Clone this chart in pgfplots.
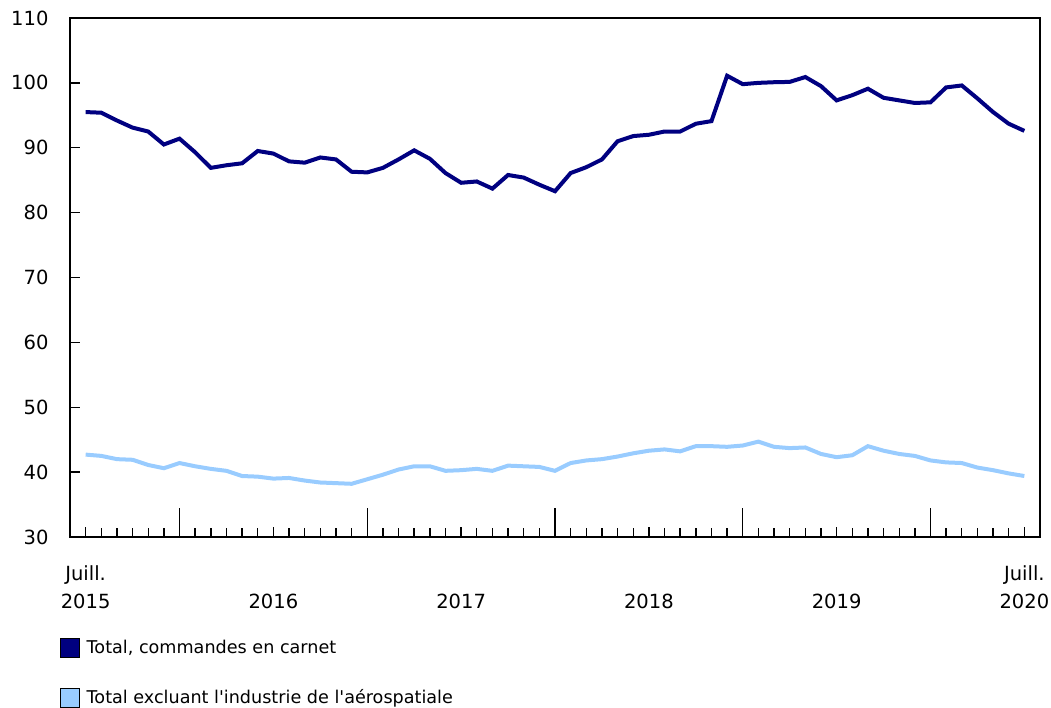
\documentclass[border=0pt]{standalone}
\usepackage{pgfplots}
\pgfplotsset{compat=1.18}
\usepackage{fontspec}
\setmainfont{DejaVu Sans}
\definecolor{navy}{RGB}{0,0,128}
\definecolor{lightb}{RGB}{153,204,255}
\begin{document}
\fontsize{19pt}{23pt}\selectfont
\begin{tikzpicture}
\useasboundingbox (0,0) rectangle (1051pt,708pt);
\begin{axis}[
  at={(70pt,171pt)}, anchor=south west,
  scale only axis, width=970pt, height=519pt,
  xmin=-1, xmax=61, ymin=30, ymax=110,
  ytick={30,40,...,110},
  tick align=inside,
  xtick pos=bottom, ytick pos=left,
  xtick={0,12,24,36,48,60},
  xticklabels={{Juill.\\2015},{\phantom{Juill.}\\2016},{\phantom{Juill.}\\2017},{\phantom{Juill.}\\2018},{\phantom{Juill.}\\2019},{Juill.\\2020}},
  xticklabel style={align=center, anchor=north, yshift=-22pt},
  minor xtick={0,...,60},
  major tick length=10pt, minor tick length=9pt,
  tick style={black, line width=1.4pt},
  minor tick style={black, line width=1.4pt},
  axis line style={black, line width=1.4pt},
  extra x ticks={6,18,30,42,54},
  extra x tick labels={},
  extra x tick style={major tick length=29pt},
  yticklabel style={anchor=east, xshift=-15pt},
  /pgf/number format/assume math mode=true,
  ticklabel style={font=\fontsize{19.5pt}{28pt}\selectfont},
  legend style={at={(-0.0103,-0.193)}, anchor=north west, draw=none, fill=none,
    inner sep=0pt, row sep=27pt, font=\fontsize{17.6pt}{21pt}\selectfont,
    nodes={inner sep=3pt}},
  legend cell align=left,
]
\addplot[navy, line width=4pt,
  legend image code/.code={\draw[fill=navy, draw=black, line width=1pt] (0pt,-9.5pt) rectangle (19pt,9.5pt); \path (21pt,0pt);}] coordinates {
(0,95.5)(1,95.4)(2,94.2)(3,93.1)(4,92.5)(5,90.5)(6,91.4)(7,89.3)(8,86.9)(9,87.3)
(10,87.6)(11,89.5)(12,89.1)(13,87.9)(14,87.7)(15,88.5)(16,88.2)(17,86.3)(18,86.2)(19,86.9)
(20,88.2)(21,89.6)(22,88.3)(23,86.1)(24,84.6)(25,84.8)(26,83.7)(27,85.8)(28,85.4)(29,84.3)
(30,83.3)(31,86.1)(32,87.0)(33,88.2)(34,91.0)(35,91.8)(36,92.0)(37,92.5)(38,92.5)(39,93.7)
(40,94.1)(41,101.1)(42,99.8)(43,100.0)(44,100.1)(45,100.15)(46,100.9)(47,99.5)(48,97.3)(49,98.1)
(50,99.1)(51,97.7)(52,97.3)(53,96.9)(54,97.0)(55,99.3)(56,99.6)(57,97.6)(58,95.5)(59,93.7)
(60,92.6)
};
\addlegendentry{Total, commandes en carnet}
\addplot[lightb, line width=4pt,
  legend image code/.code={\draw[fill=lightb, draw=black, line width=1pt] (0pt,-9.5pt) rectangle (19pt,9.5pt); \path (21pt,0pt);}] coordinates {
(0,42.7)(1,42.5)(2,42.0)(3,41.9)(4,41.1)(5,40.6)(6,41.4)(7,40.9)(8,40.5)(9,40.2)
(10,39.4)(11,39.3)(12,39.0)(13,39.1)(14,38.7)(15,38.4)(16,38.3)(17,38.2)(18,38.9)(19,39.6)
(20,40.4)(21,40.9)(22,40.9)(23,40.2)(24,40.3)(25,40.5)(26,40.2)(27,41.0)(28,40.9)(29,40.8)
(30,40.2)(31,41.4)(32,41.8)(33,42.0)(34,42.4)(35,42.9)(36,43.3)(37,43.5)(38,43.2)(39,44.0)
(40,44.0)(41,43.9)(42,44.1)(43,44.7)(44,43.9)(45,43.7)(46,43.8)(47,42.8)(48,42.3)(49,42.6)
(50,44.0)(51,43.3)(52,42.8)(53,42.5)(54,41.8)(55,41.5)(56,41.4)(57,40.7)(58,40.3)(59,39.8)
(60,39.4)
};
\addlegendentry{Total excluant l\textquotesingle industrie de l\textquotesingle aérospatiale}
\end{axis}
\end{tikzpicture}
\end{document}
